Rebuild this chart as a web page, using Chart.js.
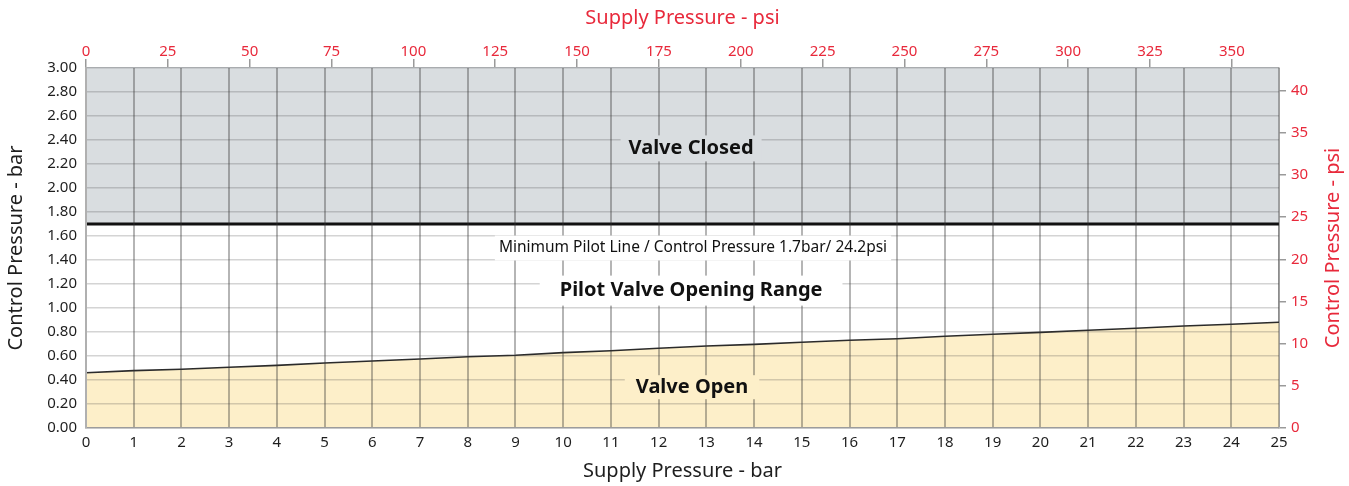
<!DOCTYPE html>
<html>
<head>
<meta charset="utf-8">
<script src="https://cdn.jsdelivr.net/npm/chart.js@4"></script>
<style>
  html, body { margin: 0; padding: 0; background: #ffffff; }
  canvas { display: block; }
</style>
</head>
<body>
<canvas id="c" width="1349" height="486"></canvas>
<script>
// ---- data ----
const supplyBar = [0,1,2,3,4,5,6,7,8,9,10,11,12,13,14,15,16,17,18,19,20,21,22,23,24,25];
const controlBar = [0.461,0.478,0.489,0.506,0.522,0.542,0.558,0.575,0.594,0.606,0.628,0.644,0.664,0.683,0.697,0.714,0.731,0.744,0.764,0.781,0.797,0.814,0.831,0.850,0.864,0.881];
const minPilot = 1.7;
const closedTop = 3.0;
const barRange = [0, 25];
const ctrlRange = [0, 3];
const psiTopRange = [0, 364.4];
const psiRightRange = [0, 42.68];
const labels = [
  { text: 'Valve Closed', x: 12.68, y: 2.33, bold: true, size: 20, bg: '#d9dde0', padX: 8, h: 26 },
  { text: 'Minimum Pilot Line / Control Pressure 1.7bar/ 24.2psi', x: 12.72, y: 1.5, bold: false, size: 15.5, bg: '#ffffff', padX: 4, h: 25 },
  { text: 'Pilot Valve Opening Range', x: 12.68, y: 1.145, bold: true, size: 20, bg: '#ffffff', padX: 20, h: 30 },
  { text: 'Valve Open', x: 12.7, y: 0.34, bold: true, size: 20, bg: '#fdefc9', padX: 11, h: 24 }
];

const FONT = "'Noto Sans', sans-serif";
const RED = '#e8293b';
const DARK = '#1e1e1e';

const labelPlugin = {
  id: 'labelPlugin',
  afterDraw(chart) {
    const ctx = chart.ctx;
    const xs = chart.scales.x, ys = chart.scales.y;
    ctx.save();
    labels.forEach(l => {
      const px = xs.getPixelForValue(l.x);
      const py = ys.getPixelForValue(l.y);
      ctx.font = (l.bold ? 'bold ' : '') + l.size + 'px ' + FONT;
      const w = ctx.measureText(l.text).width;
      ctx.fillStyle = l.bg;
      ctx.fillRect(px - w / 2 - l.padX, py - l.h / 2, w + 2 * l.padX, l.h);
      ctx.fillStyle = '#111111';
      ctx.textAlign = 'center';
      ctx.textBaseline = 'middle';
      ctx.fillText(l.text, px, py);
    });
    // right axis title, reading bottom-to-top
    const yr = chart.scales.yR;
    ctx.font = '20px ' + FONT;
    ctx.fillStyle = RED;
    ctx.translate(1333, (yr.top + yr.bottom) / 2);
    ctx.rotate(-Math.PI / 2);
    ctx.textAlign = 'center';
    ctx.textBaseline = 'middle';
    ctx.fillText('Control Pressure - psi', 0, 0);
    ctx.restore();
  }
};

new Chart(document.getElementById('c'), {
  type: 'line',
  data: {
    datasets: [
      {
        label: 'min',
        data: [{ x: barRange[0], y: minPilot }, { x: barRange[1], y: minPilot }],
        borderColor: '#111111',
        borderWidth: 3,
        pointRadius: 0,
        fill: false,
        order: 0,
        xAxisID: 'x', yAxisID: 'y'
      },
      {
        label: 'open',
        data: supplyBar.map((v, i) => ({ x: v, y: controlBar[i] })),
        borderColor: '#2b2b2b',
        borderWidth: 1.6,
        backgroundColor: '#fdefc9',
        pointRadius: 0,
        fill: 'origin',
        tension: 0,
        order: 1,
        xAxisID: 'x', yAxisID: 'y'
      },
      {
        label: 'closed',
        data: [{ x: barRange[0], y: closedTop }, { x: barRange[1], y: closedTop }],
        borderWidth: 0,
        borderColor: 'rgba(0,0,0,0)',
        backgroundColor: '#d9dde0',
        pointRadius: 0,
        fill: { value: minPilot },
        order: 2,
        xAxisID: 'x', yAxisID: 'y'
      }
    ]
  },
  options: {
    responsive: false,
    animation: false,
    devicePixelRatio: 1,
    layout: { padding: 0 },
    plugins: { legend: { display: false }, tooltip: { enabled: false } },
    scales: {
      x: {
        type: 'linear', position: 'bottom', min: barRange[0], max: barRange[1],
        afterFit: s => { s.height = 58; },
        ticks: { stepSize: 1, color: DARK, font: { family: FONT, size: 15 }, padding: 6, maxRotation: 0, autoSkip: false },
        grid: { z: 1, drawTicks: false, color: 'rgba(50,50,50,0.36)', lineWidth: 2 },
        border: { z: 1, display: true, color: '#b8b8b8', width: 1.5 },
        title: { display: true, text: 'Supply Pressure - bar', color: DARK, font: { family: FONT, size: 20 }, padding: { top: 0, bottom: 3 } }
      },
      xTop: {
        type: 'linear', position: 'top', min: psiTopRange[0], max: psiTopRange[1],
        afterFit: s => { s.height = 68; },
        ticks: { stepSize: 25, includeBounds: false, color: RED, font: { family: FONT, size: 15 }, padding: -2, maxRotation: 0, autoSkip: false },
        grid: { drawOnChartArea: false, drawTicks: true, tickLength: 9, color: '#9a9a9a', lineWidth: 1.5 },
        border: { display: true, color: '#c8ccd0', width: 1.5 },
        title: { display: true, text: 'Supply Pressure - psi', color: RED, font: { family: FONT, size: 20 }, padding: { top: 6, bottom: 0 } }
      },
      y: {
        type: 'linear', position: 'left', min: ctrlRange[0], max: ctrlRange[1],
        afterFit: s => { s.width = 86; },
        ticks: { stepSize: 0.2, color: DARK, font: { family: FONT, size: 15 }, padding: 9, autoSkip: false, callback: v => Number(v).toFixed(2) },
        grid: { z: 1, drawTicks: false, color: 'rgba(60,60,60,0.22)', lineWidth: 1.5 },
        border: { z: 1, display: true, color: '#b0b0b0', width: 2 },
        title: { display: true, text: 'Control Pressure - bar', color: DARK, font: { family: FONT, size: 20 }, padding: { top: 4, bottom: 0 } }
      },
      yR: {
        type: 'linear', position: 'right', min: psiRightRange[0], max: psiRightRange[1],
        afterFit: s => { s.width = 70; },
        ticks: { stepSize: 5, includeBounds: false, color: RED, font: { family: FONT, size: 15 }, padding: 5, autoSkip: false },
        grid: { drawOnChartArea: false, drawTicks: true, tickLength: 7, color: '#9a9a9a', lineWidth: 1.5 },
        border: { display: true, color: '#c0c0c0', width: 1.5 },
        title: { display: false }
      }
    }
  },
  plugins: [labelPlugin]
});
</script>
</body>
</html>
